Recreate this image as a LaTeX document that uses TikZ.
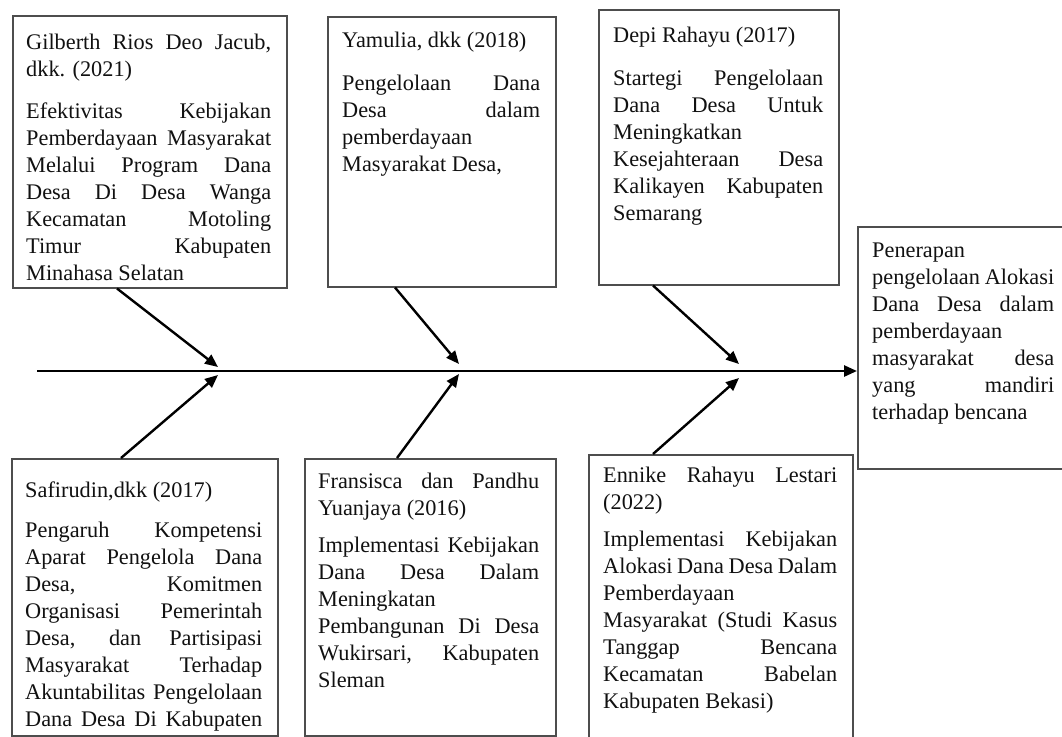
\documentclass[tikz,border=0pt]{standalone}
\usepackage{fontspec}
\setmainfont{Liberation Serif}
\usetikzlibrary{arrows.meta}
\newcommand\jline[1]{\hbox to\hsize{#1}}
\newcommand\lline[1]{\hbox to\hsize{#1\hfil}}
\newcommand\pgap[1]{\vskip#1pt}
\definecolor{boxline}{HTML}{4D4D4D}
\definecolor{inkc}{HTML}{111111}
\tikzset{
  refbox/.style={draw=boxline, line width=1.5pt, fill=none, inner sep=0pt, anchor=north west},
  reftext/.style={inner sep=0pt, anchor=base west, text=inkc, font=\fontsize{22.3}{27}\selectfont},
  bone/.style={line width=2.4pt, draw=black, -{Triangle[length=13pt,width=11pt]}},
  spine/.style={line width=2.6pt, draw=black, -{Triangle[length=13pt,width=11pt]}}
}
\begin{document}
\begin{tikzpicture}[x=1pt,y=-1pt]
\useasboundingbox (0,0) rectangle (1062,736);
\fill[white] (0,0) rectangle (1062,736);

% boxes
\node[refbox, minimum width=274pt, minimum height=272pt] (b1) at (12,15) {};
\node[refbox, minimum width=228pt, minimum height=270pt] (b2) at (327,16) {};
\node[refbox, minimum width=240pt, minimum height=275pt] (b3) at (598,9) {};
\node[refbox, minimum width=210pt, minimum height=242pt] (r) at (857,226) {};
\node[refbox, minimum width=266pt, minimum height=277pt] (b4) at (11,458) {};
\node[refbox, minimum width=251pt, minimum height=277pt] (b5) at (304,458) {};
\node[refbox, minimum width=264pt, minimum height=290pt] (b6) at (588,454) {};

% texts
\node[reftext] (t1) at (26,49) {\parbox[t]{245pt}{%
\jline{Gilberth Rios Deo Jacub,}
\lline{dkk. (2021)}
\pgap{15}
\jline{Efektivitas Kebijakan}
\jline{Pemberdayaan Masyarakat}
\jline{Melalui Program Dana}
\jline{Desa Di Desa Wanga}
\jline{Kecamatan Motoling}
\jline{Timur Kabupaten}
\lline{Minahasa Selatan}}};

\node[reftext] (t2) at (342,47) {\parbox[t]{198pt}{%
\lline{Yamulia, dkk (2018)}
\pgap{16}
\jline{Pengelolaan Dana}
\jline{Desa dalam}
\lline{pemberdayaan}
\lline{Masyarakat Desa,}}};

\node[reftext] (t3) at (613,42) {\parbox[t]{210pt}{%
\lline{Depi Rahayu (2017)}
\pgap{16}
\jline{Startegi Pengelolaan}
\jline{Dana Desa Untuk}
\lline{Meningkatkan}
\jline{Kesejahteraan Desa}
\jline{Kalikayen Kabupaten}
\lline{Semarang}}};

\node[reftext] (tr) at (872,257) {\parbox[t]{182pt}{%
\lline{Penerapan}
\jline{pengelolaan Alokasi}
\jline{Dana Desa dalam}
\lline{pemberdayaan}
\jline{masyarakat desa}
\jline{yang mandiri}
\lline{terhadap bencana}}};

\node[reftext] (t4) at (25,497) {\parbox[t]{237pt}{%
\lline{Safirudin,dkk (2017)}
\pgap{13}
\jline{Pengaruh Kompetensi}
\jline{Aparat Pengelola Dana}
\jline{Desa, Komitmen}
\jline{Organisasi Pemerintah}
\jline{Desa, dan Partisipasi}
\jline{Masyarakat Terhadap}
\jline{Akuntabilitas Pengelolaan}
\jline{Dana Desa Di Kabupaten}}};

\node[reftext] (t5) at (318,488) {\parbox[t]{221pt}{%
\jline{Fransisca dan Pandhu}
\lline{Yuanjaya (2016)}
\pgap{10}
\jline{Implementasi Kebijakan}
\jline{Dana Desa Dalam}
\lline{Meningkatan}
\jline{Pembangunan Di Desa}
\jline{Wukirsari, Kabupaten}
\lline{Sleman}}};

\node[reftext] (t6) at (603,482) {\parbox[t]{234pt}{%
\jline{Ennike Rahayu Lestari}
\lline{(2022)}
\pgap{10}
\jline{Implementasi Kebijakan}
\jline{Alokasi Dana Desa Dalam}
\lline{Pemberdayaan}
\jline{Masyarakat (Studi Kasus}
\jline{Tanggap Bencana}
\jline{Kecamatan Babelan}
\lline{Kabupaten Bekasi)}}};

% spine
\coordinate (s0) at (37,371);
\draw[spine] (s0) -- (s0 -| r.west);

% joints on spine
\coordinate (j1u) at (218,367);
\coordinate (j1d) at (218,375);
\coordinate (j2u) at (459,364);
\coordinate (j2d) at (459,374);
\coordinate (j3u) at (739,364);
\coordinate (j3d) at (739,378);

% bones
\draw[bone] ([xshift=105pt]b1.south west) -- (j1u);
\draw[bone] ([xshift=110pt]b4.north west) -- (j1d);
\draw[bone] ([xshift=68pt]b2.south west) -- (j2u);
\draw[bone] ([xshift=93pt]b5.north west) -- (j2d);
\draw[bone] ([xshift=55pt]b3.south west) -- (j3u);
\draw[bone] ([xshift=65pt]b6.north west) -- (j3d);
\end{tikzpicture}
\end{document}
